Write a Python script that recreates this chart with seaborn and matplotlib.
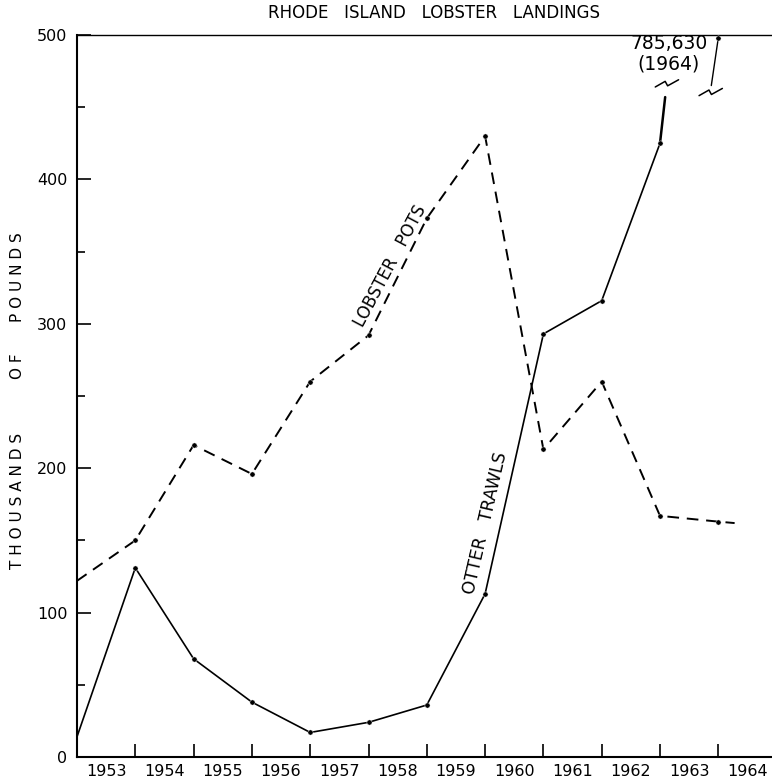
import numpy as np
import pandas as pd
import matplotlib
matplotlib.use("Agg")
import matplotlib.pyplot as plt
import seaborn as sns

# ---------------- data ----------------
years = [1953, 1954, 1955, 1956, 1957, 1958, 1959, 1960, 1961, 1962, 1963, 1964]
point_pos = list(range(1, 12))              # points sit on the year-boundary ticks
otter_trawls = [131, 68, 38, 17, 24, 36, 113, 293, 316, 425, 785.63]
lobster_pots = [150, 216, 196, 260, 292, 373, 430, 213, 260, 167, 163]
otter_start = 14
pots_start = 122
pots_end_pos, pots_end = 11.28, 162
y_top = 500
break_low = 457          # where the otter line is broken below the top
break_high_pos = 10.88   # lower end of the piece hanging from the off-scale point
break_high = 465

sns.set_style("ticks")
plt.rcParams["font.family"] = ["DejaVu Sans"]
for k in ["text.color", "axes.labelcolor", "xtick.color", "ytick.color", "axes.edgecolor"]:
    plt.rcParams[k] = "black"

fig = plt.figure(figsize=(7.72, 7.81), dpi=100)
ax = fig.add_axes([77 / 772, 24 / 781, 1 - 77 / 772, (757 - 35) / 781])

# otter trawls (solid)
ot_x = [0] + point_pos[:10]
ot_y = [otter_start] + otter_trawls[:10]
sns.lineplot(x=ot_x, y=ot_y, ax=ax, color="black", lw=1.2, sort=False)
sns.scatterplot(x=point_pos[:10], y=otter_trawls[:10], ax=ax, color="black", s=14, zorder=5)

# broken segment toward the off-scale 1964 value
t = (break_low - otter_trawls[9]) / (otter_trawls[10] - otter_trawls[9])
ax.plot([point_pos[9], point_pos[9] + t], [otter_trawls[9], break_low], color="black", lw=1.8)
y_shown = y_top - 2
ax.plot([point_pos[10], break_high_pos], [y_shown, break_high], color="black", lw=1.0)
sns.scatterplot(x=[point_pos[10]], y=[y_shown], ax=ax, color="black", s=14, zorder=5, clip_on=False)

# break symbols
zx = np.array([-0.2, -0.03, 0.012, 0.2])
zy = np.array([-2.0, 1.9, -1.2, 3.0])
ax.plot(point_pos[9] + t + 0.03 + zx, break_low + 9 + zy, color="black", lw=1.1)
ax.plot(break_high_pos - 0.01 + zx, break_high - 5 + zy, color="black", lw=1.1)

# lobster pots (dashed)
lp_x = [0] + point_pos + [pots_end_pos]
lp_y = [pots_start] + lobster_pots + [pots_end]
sns.lineplot(x=lp_x, y=lp_y, ax=ax, color="black", lw=1.4, sort=False,
             dashes=False, linestyle=(0, (6, 4)))
sns.scatterplot(x=point_pos, y=lobster_pots, ax=ax, color="black", s=14, zorder=5)

# axes styling
ax.set_xlim(0, 695 / 58.3)
ax.set_ylim(0, y_top)
ax.set_yticks(np.arange(0, 501, 100))
ax.set_yticks(np.arange(50, 500, 100), minor=True)
ax.set_xticks(point_pos)
ax.set_xticklabels([])
ax.set_xticks(np.arange(len(years)) + 0.5, minor=True)
ax.set_xticklabels([str(y) for y in years], minor=True)
ax.tick_params(axis="x", which="major", direction="in", length=9.5, width=1.2)
ax.tick_params(axis="x", which="minor", length=0, pad=5, labelsize=11.5)
ax.tick_params(axis="y", which="major", direction="in", length=10, width=1.2, pad=7, labelsize=11.5)
ax.tick_params(axis="y", which="minor", direction="in", length=6, width=1.2)
for s in ["left", "bottom"]:
    ax.spines[s].set_linewidth(1.5)
ax.spines["top"].set_linewidth(1.0)
ax.spines["right"].set_visible(False)

# in-plot labels
ax.text(5.37, 340, "LOBSTER   POTS", rotation=62, ha="center", va="center", fontsize=12)
ax.text(7.0, 162, "OTTER   TRAWLS", rotation=77, ha="center", va="center", fontsize=12.5)
ax.text(10.15, 487, "785,630\n(1964)", ha="center", va="center", fontsize=13.5, linespacing=1.05)

# title and y label
fig.text(434 / 772, 1 - 13 / 781, "RHODE   ISLAND   LOBSTER   LANDINGS", ha="center", va="center", fontsize=12)
fig.text(18 / 772, 1 - 277 / 781, "P O U N D S", rotation=90, ha="center", va="center", fontsize=11)
fig.text(18 / 772, 1 - 366 / 781, "O F", rotation=90, ha="center", va="center", fontsize=11)
fig.text(18 / 772, 1 - 501 / 781, "T H O U S A N D S", rotation=90, ha="center", va="center", fontsize=11)

fig.savefig("out.png", dpi=100)
